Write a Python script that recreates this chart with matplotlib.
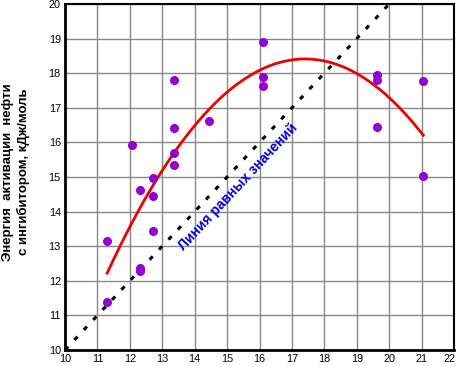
import numpy as np
import matplotlib
matplotlib.use("Agg")
import matplotlib.pyplot as plt
from matplotlib.transforms import ScaledTranslation

# Data
x_pts = [11.3, 11.3, 12.07, 12.3, 12.3, 12.3, 12.7, 12.7, 12.7,
         13.36, 13.36, 13.36, 13.36, 14.44, 16.1, 16.1, 16.1,
         19.63, 19.63, 19.63, 21.05, 21.05]
y_pts = [13.15, 11.4, 15.92, 14.62, 12.37, 12.27, 14.97, 14.45, 13.44,
         17.8, 16.42, 15.69, 15.35, 16.62, 18.9, 17.89, 17.63,
         17.95, 17.8, 16.44, 17.77, 15.03]
eq_line = [10, 20]
x_ticks = list(range(10, 23))
y_ticks = list(range(10, 21))

plt.rcParams['font.family'] = ['Liberation Sans', 'DejaVu Sans']

fig = plt.figure(figsize=(4.58, 3.66), dpi=100)
ax = fig.add_axes([65/458, 1-350/366, (454-65)/458, (350-4)/366])

ax.set_xlim(10, 22)
ax.set_ylim(10, 20)
ax.set_xticks(x_ticks)
ax.set_yticks(y_ticks)
ax.grid(True, color='#888888', linewidth=1.0)
ax.set_axisbelow(True)
ax.tick_params(length=0, labelsize=7.8, pad=3)
for s in ax.spines.values():
    s.set_color('black')
    s.set_linewidth(1.5)
ax.spines['left'].set_linewidth(2)
ax.spines['bottom'].set_linewidth(2)

# shift the last x tick label slightly left so it stays inside the picture
fig.canvas.draw()
last = ax.get_xticklabels()[-1]
last.set_transform(last.get_transform() + ScaledTranslation(-4/100, 0, fig.dpi_scale_trans))

# equal value line
ax.plot(eq_line, eq_line, color='black', linestyle=(0, (1.5, 3)), linewidth=2.2, zorder=3)

# trend line (quadratic fit of the points)
coef = np.polyfit(x_pts, y_pts, 2)
xs = np.linspace(min(x_pts), max(x_pts), 200)
ax.plot(xs, np.polyval(coef, xs), color='#ee0000', linewidth=2, zorder=4)

ax.plot(x_pts, y_pts, linestyle='none', marker='o', markersize=6.5,
        color='#9400d3', markeredgewidth=0, zorder=5)

ax.text(15.35, 14.7, 'Линия равных значений', color='#0000dd', fontsize=10,
        fontweight='bold', rotation=47, ha='center', va='center',
        rotation_mode='anchor', zorder=6)

fig.text(0.035, 0.53, 'Энергия  активации  нефти\nс ингибитором, кДж/моль',
         rotation=90, ha='center', va='center', fontsize=9.5, fontweight='bold',
         linespacing=1.3)

fig.savefig('out.png', dpi=100)
